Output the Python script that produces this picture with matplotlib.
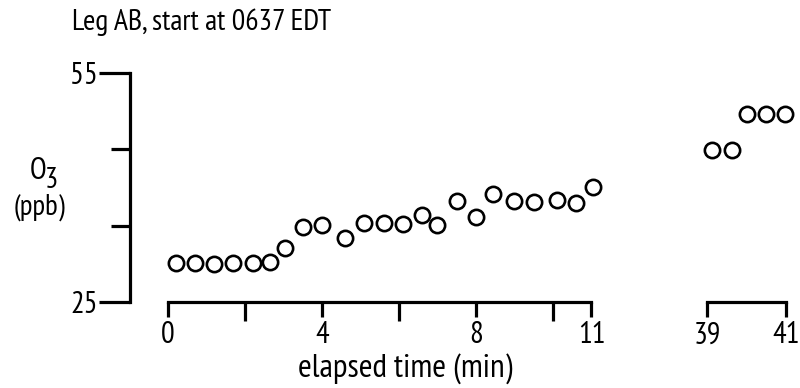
import matplotlib
matplotlib.use("Agg")
import matplotlib.pyplot as plt

plt.rcParams['font.family'] = ['PT Sans Narrow', 'DejaVu Sans']

# ozone along leg AB, first stretch (0-11 min) and the later stretch (39-41 min)
t_early = [0.2, 0.7, 1.2, 1.7, 2.2, 2.65, 3.05, 3.5, 4.0, 4.6, 5.1, 5.6,
           6.1, 6.6, 7.0, 7.5, 8.0, 8.45, 9.0, 9.5, 10.1, 10.6, 11.05]
o3_early = [30.1, 30.1, 30.0, 30.1, 30.1, 30.2, 32.1, 34.8, 35.1, 33.4, 35.4, 35.4,
            35.2, 36.4, 35.1, 38.2, 36.1, 39.2, 38.2, 38.1, 38.4, 38.0, 40.1]
t_late = [39.13, 39.63, 40.0, 40.5, 40.97]
o3_late = [44.9, 44.9, 49.6, 49.6, 49.6]

early_major = [0, 4, 8, 11]
early_minor = [2, 6, 10]
late_ticks = [39, 41]

W, H = 800, 388
fig = plt.figure(figsize=(W / 100, H / 100), dpi=100)

ax1 = fig.add_axes([130 / W, 86 / H, 470 / W, 229 / H])
ax2 = fig.add_axes([699 / W, 86 / H, 95 / W, 229 / H])

ax1.set_xlim(-0.987, -0.987 + 470 / 38.5)
ax2.set_xlim(38.8, 41.2)
for ax in (ax1, ax2):
    ax.set_ylim(25, 55)
    ax.patch.set_visible(False)
    for s in ('top', 'right'):
        ax.spines[s].set_visible(False)
    ax.spines['bottom'].set_linewidth(2.3)
    ax.spines['left'].set_linewidth(2.3)

mk = dict(linestyle='none', marker='o', ms=11, mew=1.9, mec='black', mfc='white', clip_on=False)
ax1.plot(t_early, o3_early, **mk)
ax2.plot(t_late, o3_late, **mk)

# y axis only on the left panel
ax1.spines['left'].set_bounds(25, 55)
ax1.set_yticks([25, 55])
ax1.set_yticklabels(['25', '55'])
ax1.set_yticks([35, 45], minor=True)
ax1.tick_params(axis='y', which='major', length=22, width=2.3, pad=1, labelsize=22)
ax1.tick_params(axis='y', which='minor', length=14, width=2.3)

ax1.spines['bottom'].set_bounds(0, 11)
ax1.set_xticks(early_major)
ax1.set_xticks(early_minor, minor=True)
ax1.tick_params(axis='x', which='major', length=11, width=2.3, pad=3, labelsize=22)
ax1.tick_params(axis='x', which='minor', length=14, width=2.3)

ax2.spines['left'].set_visible(False)
ax2.set_yticks([])
ax2.spines['bottom'].set_bounds(39, 41)
ax2.set_xticks(late_ticks)
ax2.tick_params(axis='x', which='major', length=11, width=2.3, pad=3, labelsize=22)

fig.text(72 / W, 1 - 22 / H, 'Leg AB, start at 0637 EDT', ha='left', va='center', fontsize=21.5)
fig.text(405 / W, 1 - 369 / H, 'elapsed time (min)', ha='center', va='center', fontsize=24)
fig.text(38 / W, 1 - 171 / H, 'O', ha='center', va='center', fontsize=22)
fig.text(51 / W, 1 - 181 / H, '3', ha='center', va='center', fontsize=21)
fig.text(39 / W, 1 - 207 / H, '(ppb)', ha='center', va='center', fontsize=21)

fig.savefig('out.png', dpi=100)
